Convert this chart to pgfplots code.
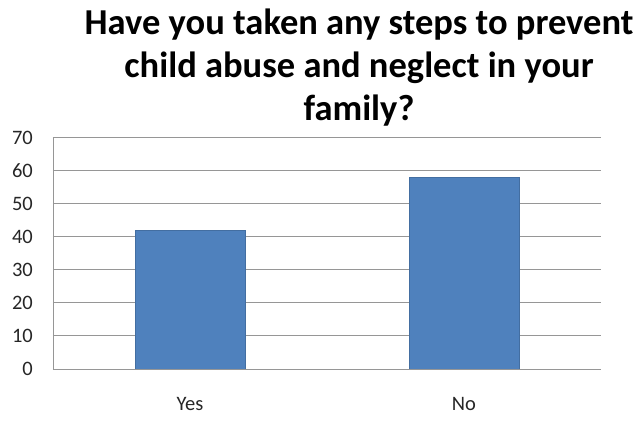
\documentclass[border=0pt]{standalone}
\usepackage{pgfplots}
\pgfplotsset{compat=1.18}
\usepackage{fontspec}
\setmainfont{Carlito}
\definecolor{barblue}{HTML}{4F81BD}
\definecolor{gridgray}{RGB}{150,150,150}
\begin{document}
\begin{tikzpicture}[x=1pt,y=1pt]
\path[use as bounding box] (0,0) rectangle (641,425);
\begin{axis}[
  at={(53pt,56pt)}, anchor=south west,
  scale only axis, width=548pt, height=231.5pt,
  xmin=-0.5, xmax=1.5, ymin=0, ymax=70,
  ytick={0,10,...,70},
  xtick={0,1}, xticklabels={Yes,No},
  ymajorgrids, grid style={gridgray, line width=0.9pt},
  axis line style={gridgray, line width=0.9pt},
  axis x line*=bottom, axis y line*=left,
  major tick length=0pt,
  tick style={draw=none},
  /pgf/number format/assume math mode=true,
  yticklabel style={font=\fontsize{20.5}{21}\selectfont, color=black!85, inner sep=0pt, anchor=east, xshift=-20pt},
  xticklabel style={font=\fontsize{20.5}{21}\selectfont, color=black!85, inner sep=0pt, anchor=north, yshift=-28pt},
]
\addplot[ybar, bar width=0.4, fill=barblue, draw=barblue!85!black, line width=0.4pt] coordinates {(0,42) (1,58)};
\end{axis}
\node[anchor=base, font=\fontsize{36.5}{40}\selectfont\bfseries, inner sep=0pt] at (359,390) {Have you taken any steps to prevent};
\node[anchor=base, font=\fontsize{36.5}{40}\selectfont\bfseries, inner sep=0pt] at (359,347) {child abuse and neglect in your};
\node[anchor=base, font=\fontsize{36.5}{40}\selectfont\bfseries, inner sep=0pt] at (359,304) {family?};
\end{tikzpicture}
\end{document}
